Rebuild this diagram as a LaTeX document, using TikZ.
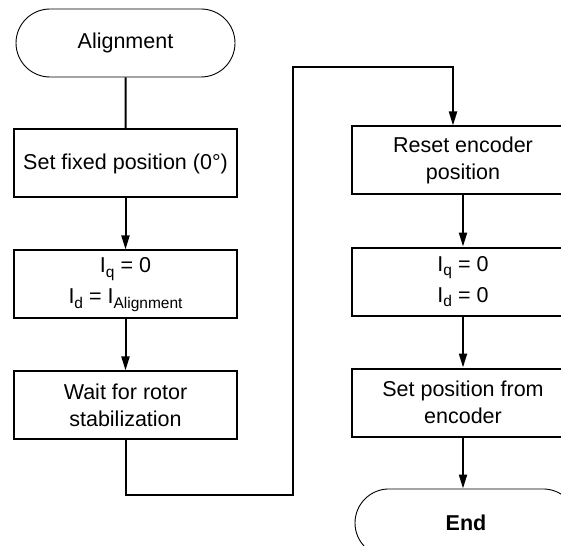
\documentclass[tikz,border=0pt]{standalone}
\usepackage{fontspec}
\setmainfont{Liberation Sans}
\usepackage{tikz}
\usetikzlibrary{chains}
\usetikzlibrary{positioning}
\usetikzlibrary{shapes.misc}
\usetikzlibrary{arrows.meta}
\newcommand{\Cur}[1]{I\raisebox{-4.5pt}{\fontsize{15.5}{15.5}\selectfont #1}}

\begin{document}
\begin{tikzpicture}
[x=1pt,y=-1pt,
font=\fontsize{21.5}{27}\selectfont,
boxnode/.style={inner sep=2pt,minimum height=68pt,minimum
width=223pt,rectangle,draw,line width=2pt,align=center},
termnode/.style={inner sep=2pt,minimum height=68pt,minimum
width=226pt,rounded rectangle,draw,line width=0.9pt},
flowline/.style={line width=2pt},
flowarrow/.style={flowline,-{Triangle[length=14pt,width=8pt]}}
]
\useasboundingbox (0,0) rectangle (561,545);
\clip (0,0) rectangle (561,545);
\begin{scope}[start chain=1 going below,node distance=51pt]
\node [termnode,minimum width=223pt,on chain=1] (Algn) at (125.5,43) {Alignment};
\node [boxnode,on chain=1] (Pos0) {Set fixed position (0°)};
\node [boxnode,on chain=1] (Cur0) {\Cur{q} = 0\\[4pt] \Cur{d} = \Cur{Alignment}};
\node [boxnode,on chain=1] (Wait) {Wait for rotor\\stabilization};
\end{scope}
\begin{scope}[start chain=2 going below,node distance=51pt]
\node [boxnode,on chain=2] (Rst) at (463,160.5) {Reset encoder\\position};
\node [boxnode,on chain=2] (Cur1) {\Cur{q} = 0\\[4pt] \Cur{d} = 0};
\node [boxnode,on chain=2] (Enc) {Set position from\\encoder};
\node [termnode,on chain=2,xshift=3pt] (Fin) {\bfseries End};
\end{scope}
\coordinate (LoopA) at (293,495);
\coordinate (LoopB) at (293,67);
\draw [flowline] (Algn) -- (Pos0);
\draw [flowarrow] (Pos0) -- (Cur0);
\draw [flowarrow] (Cur0) -- (Wait);
\draw [flowarrow] (Wait.south) |- (LoopA) -- (LoopB) -|
([xshift=-10pt]Rst.north);
\draw [flowarrow] (Rst) -- (Cur1);
\draw [flowarrow] (Cur1) -- (Enc);
\draw [flowarrow] (Enc.south) -- (Enc.south |- Fin.north);
\end{tikzpicture}
\end{document}
